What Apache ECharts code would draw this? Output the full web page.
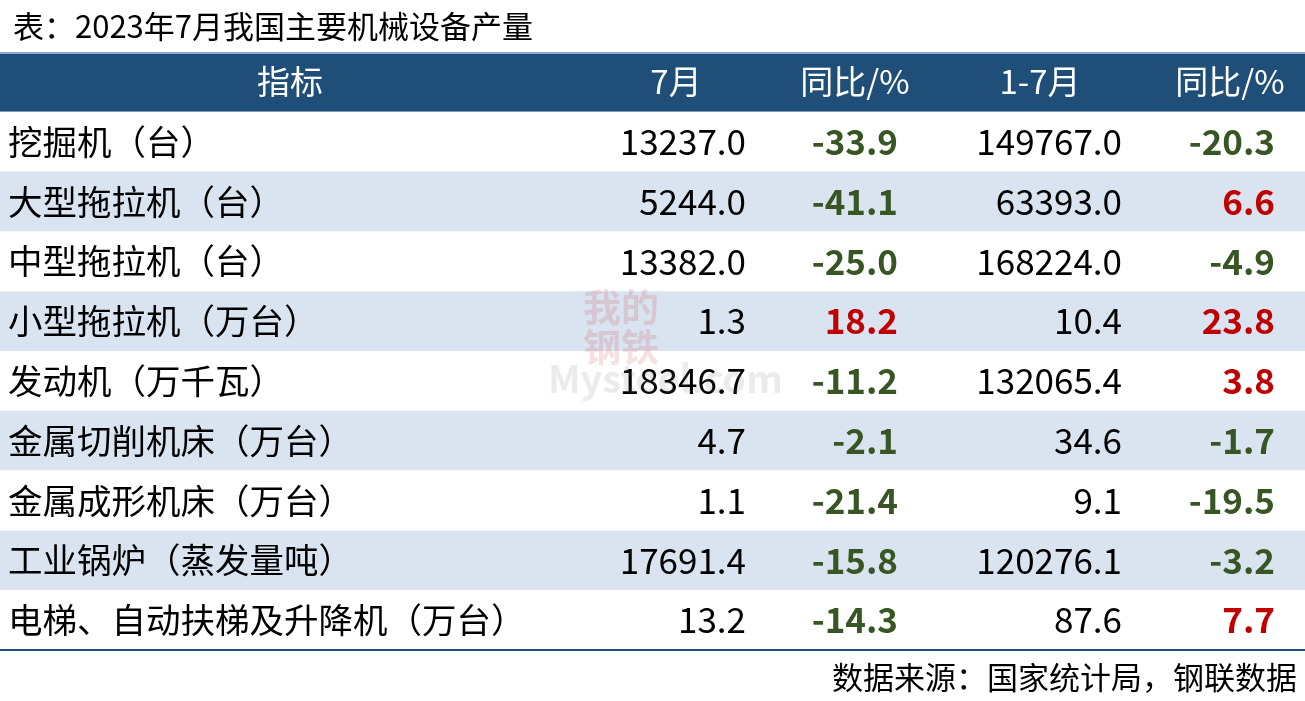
<!DOCTYPE html>
<html><head><meta charset="utf-8">
<script src="https://cdn.jsdelivr.net/npm/echarts@6/dist/echarts.min.js"></script>
<style>html,body{margin:0;padding:0;background:#fff}#c{width:1305px;height:701px}</style>
</head><body><div id="c"></div>
<script>
const title = '表：2023年7月我国主要机械设备产量';
const source = '数据来源：国家统计局，钢联数据';
const headers = ['指标', '7月', '同比/%', '1-7月', '同比/%'];
const indicators = ['挖掘机（台）','大型拖拉机（台）','中型拖拉机（台）','小型拖拉机（万台）','发动机（万千瓦）','金属切削机床（万台）','金属成形机床（万台）','工业锅炉（蒸发量吨）','电梯、自动扶梯及升降机（万台）'];
const julValues = [13237.0, 5244.0, 13382.0, 1.3, 18346.7, 4.7, 1.1, 17691.4, 13.2];
const julYoy = [-33.9, -41.1, -25.0, 18.2, -11.2, -2.1, -21.4, -15.8, -14.3];
const ytdValues = [149767.0, 63393.0, 168224.0, 10.4, 132065.4, 34.6, 9.1, 120276.1, 87.6];
const ytdYoy = [-20.3, 6.6, -4.9, 23.8, 3.8, -1.7, -19.5, -3.2, 7.7];

const FONT = '"Noto Sans CJK SC", "Noto Sans", sans-serif';
const GREEN = '#375623', RED = '#c00000';
const colRight = [null, 746, 898, 1122, 1275];
const headCenter = [290, 676, 855, 1040, 1230];
const rowCats = ['header'].concat(indicators);

const chart = echarts.init(document.getElementById('c'));
function txt(x, y, s, opt) {
  return {type:'text', x:x, y:y, style:Object.assign({text:s, fontFamily:FONT, fontSize:33, fill:'#000', verticalAlign:'middle'}, opt)};
}
chart.setOption({
  animation:false,
  title:{text:title, left:8, top:6, textStyle:{fontFamily:FONT, fontSize:31, fontWeight:'normal', color:'#000'}},
  graphic:[
    {type:'text', right:8, bottom:8, style:{text:source, fontFamily:FONT, fontSize:31, fill:'#000'}},
    {type:'text', left:583, top:287, z:100, style:{text:'我的\n钢铁', fontFamily:FONT, fontSize:38, fontWeight:'bold', lineHeight:40, fill:'rgba(192,0,0,0.12)'}},
    {type:'text', left:548, top:360, z:100, style:{text:'Mysteel.com', fontFamily:FONT, fontSize:38, fontWeight:'bold', fill:'rgba(120,120,120,0.15)'}}
  ],
  grid:{left:0, right:0, top:52, bottom:51},
  xAxis:{type:'value', min:0, max:1305, show:false},
  yAxis:{type:'category', data:rowCats, inverse:true, show:false},
  series:[{
    type:'custom',
    data:rowCats.map((_, i) => [0, i]),
    encode:{x:0, y:1},
    renderItem:function(params, api){
      const i = api.value(1);
      const cs = params.coordSys;
      const yc = api.coord([0, i])[1];
      const h = api.size([0, 1])[1];
      const top = yc - h/2;
      const ch = [];
      const X = v => api.coord([v, i])[0];
      if (i === 0) {
        ch.push({type:'rect', shape:{x:cs.x, y:top, width:cs.width, height:h}, style:{fill:'#1f4e79'}});
        ch.push({type:'line', shape:{x1:cs.x, y1:top+1, x2:cs.x+cs.width, y2:top+1}, style:{stroke:'#8faadc', lineWidth:2}});
        headers.forEach((t, k) => ch.push(txt(X(headCenter[k]), yc, t, {fill:'#fff', align:'center', fontSize:33})));
      } else {
        const r = i - 1;
        ch.push({type:'rect', shape:{x:cs.x, y:top, width:cs.width, height:h}, style:{fill: r % 2 === 1 ? '#dae3f0' : '#fff'}});
        ch.push(txt(X(8), yc, indicators[r], {align:'left', fontSize:34.5}));
        const col = v => v < 0 ? GREEN : RED;
        ch.push(txt(X(colRight[1]), yc, julValues[r].toFixed(1), {align:'right', fontSize:35}));
        ch.push(txt(X(colRight[2]), yc, julYoy[r].toFixed(1), {align:'right', fill:col(julYoy[r]), fontWeight:'bold', fontSize:35}));
        ch.push(txt(X(colRight[3]), yc, ytdValues[r].toFixed(1), {align:'right', fontSize:35}));
        ch.push(txt(X(colRight[4]), yc, ytdYoy[r].toFixed(1), {align:'right', fill:col(ytdYoy[r]), fontWeight:'bold', fontSize:35}));
        if (r === indicators.length - 1) {
          ch.push({type:'line', shape:{x1:cs.x, y1:top+h, x2:cs.x+cs.width, y2:top+h}, style:{stroke:'#1f4e79', lineWidth:2}});
        }
      }
      return {type:'group', children:ch};
    }
  }]
});
</script></body></html>
